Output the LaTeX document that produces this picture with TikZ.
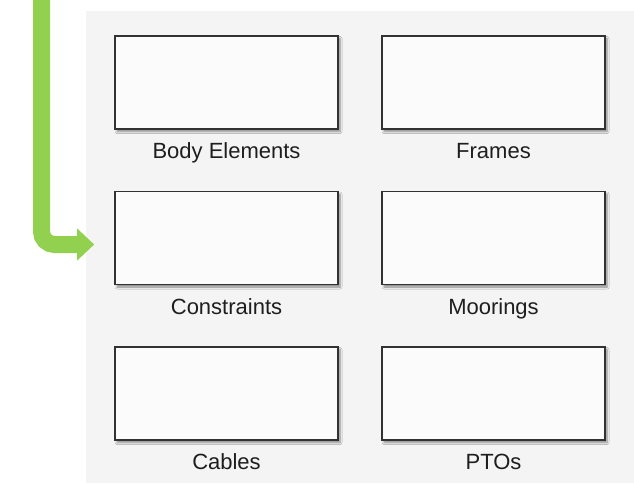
\documentclass[tikz,border=0pt]{standalone}
\usepackage{fontspec}
\setmainfont{Liberation Sans}
\usetikzlibrary{arrows.meta,shadows.blur}
\definecolor{panelgray}{RGB}{244,244,244}
\definecolor{boxfill}{RGB}{251,251,251}
\definecolor{boxline}{RGB}{50,50,50}
\definecolor{labeltext}{RGB}{30,30,30}
\definecolor{flowgreen}{RGB}{146,208,80}
\tikzset{
  blk/.style={draw=boxline, fill=boxfill, line width=1.6pt,
    minimum width=223pt, minimum height=93pt, inner sep=0pt,
    blur shadow={shadow xshift=2pt, shadow yshift=-2.5pt,
      shadow blur radius=2pt, shadow blur steps=6, shadow opacity=45}},
  lbl/.style={anchor=base, text=labeltext, font=\fontsize{22}{26}\selectfont, inner sep=0pt},
  flow/.style={draw=flowgreen, line width=17pt, rounded corners=13pt,
    -{Triangle[length=17pt,width=31pt]}}
}
\begin{document}
\begin{tikzpicture}[x=1pt,y=-1pt]
  \useasboundingbox (0,0) rectangle (634,483);
  % library panel
  \fill[panelgray] (86,11) rectangle (634,483);
  % blocks
  \node[blk] (body) at (226.5,82.5) {};
  \node[blk] (frames) at (493.5,82.5) {};
  \node[blk] (constr) at (226.5,238) {};
  \node[blk] (moor) at (493.5,238) {};
  \node[blk] (cables) at (226.5,393.5) {};
  \node[blk] (ptos) at (493.5,393.5) {};
  % captions
  \node[lbl] (bodyl) at ([yshift=-29pt]body.south) {Body Elements};
  \node[lbl] (framesl) at ([yshift=-29pt]frames.south) {Frames};
  \node[lbl] (constrl) at ([yshift=-29pt]constr.south) {Constraints};
  \node[lbl] (moorl) at ([yshift=-29pt]moor.south) {Moorings};
  \node[lbl] (cablesl) at ([yshift=-29pt]cables.south) {Cables};
  \node[lbl] (ptosl) at ([yshift=-29pt]ptos.south) {PTOs};
  % incoming flow
  \coordinate (src) at (41.5,0);
  \coordinate (tip) at ([xshift=-20pt,yshift=-6.5pt]constr.west);
  \draw[flow] (src) |- (tip);
\end{tikzpicture}
\end{document}
